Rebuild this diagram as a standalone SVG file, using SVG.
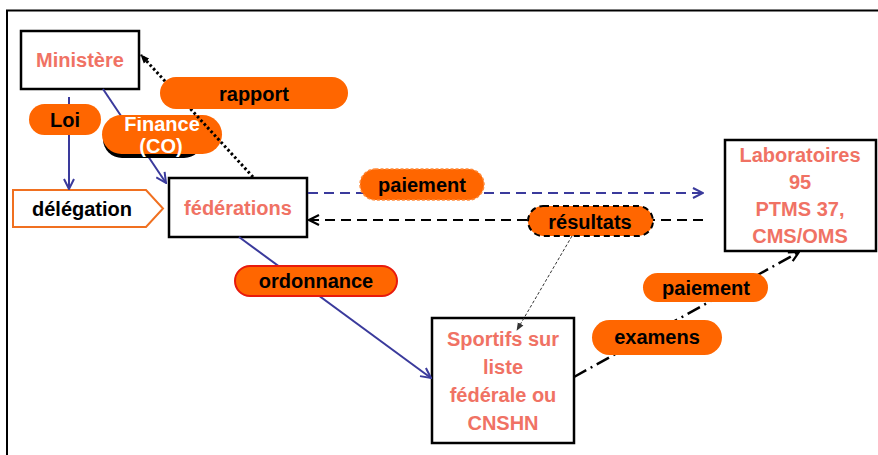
<svg xmlns="http://www.w3.org/2000/svg" width="878" height="455" viewBox="0 0 878 455">
<defs>
<style>
.box{fill:#fff;stroke:#000;stroke-width:2.5}
.nt{font-family:"Liberation Sans",Arial,sans-serif;font-weight:bold;font-size:20px;fill:#F07264;text-anchor:middle}
.lt{font-family:"Liberation Sans",Arial,sans-serif;font-weight:bold;font-size:20px;fill:#000;text-anchor:middle}
.wt{font-family:"Liberation Sans",Arial,sans-serif;font-weight:bold;font-size:20px;fill:#fff;text-anchor:middle}
.pill{fill:#FF6600}
.blue{stroke:#3A3A9C;stroke-width:2;fill:none}
</style>
<marker id="ab" viewBox="0 0 12 12" refX="11" refY="6" markerWidth="12" markerHeight="12" markerUnits="userSpaceOnUse" orient="auto">
<path d="M1,1 L11,6 L1,11" fill="none" stroke="#3A3A9C" stroke-width="2"/>
</marker>
<marker id="ak" viewBox="0 0 12 12" refX="11" refY="6" markerWidth="12" markerHeight="12" markerUnits="userSpaceOnUse" orient="auto">
<path d="M1,1 L11,6 L1,11" fill="none" stroke="#000" stroke-width="2.2"/>
</marker>
<marker id="akf" viewBox="0 0 10 10" refX="9" refY="5" markerWidth="9" markerHeight="9" markerUnits="userSpaceOnUse" orient="auto">
<path d="M0,1 L10,5 L0,9 Z" fill="#000"/>
</marker>
<marker id="as" viewBox="0 0 10 10" refX="9" refY="5" markerWidth="8" markerHeight="8" markerUnits="userSpaceOnUse" orient="auto">
<path d="M0,1 L10,5 L0,9 Z" fill="#333"/>
</marker>
<clipPath id="finclip"><rect x="95" y="117" width="140" height="50"/></clipPath>
</defs>
<rect width="878" height="455" fill="#fff"/>
<path d="M7,455 V10.5 H878" fill="none" stroke="#000" stroke-width="2"/>

<g id="ministere">
<rect class="box" x="21" y="31" width="118" height="58"/>
<text class="nt" x="80" y="67">Ministère</text>
</g>
<g id="delegation">
<polygon points="13,190 146,190 163,208.5 146,227 13,227" fill="#fff" stroke="#F07020" stroke-width="2"/>
<text class="lt" x="82" y="216">délégation</text>
</g>
<g id="federations">
<rect class="box" x="169" y="178" width="138" height="59"/>
<text class="nt" x="238" y="215">fédérations</text>
</g>
<g id="laboratoires">
<rect class="box" x="725" y="140" width="151" height="111"/>
<text class="nt" x="800" y="162">Laboratoires</text>
<text class="nt" x="800" y="189">95</text>
<text class="nt" x="800" y="216">PTMS 37,</text>
<text class="nt" x="800" y="243">CMS/OMS</text>
</g>
<g id="sportifs">
<rect class="box" x="432" y="318" width="142" height="125"/>
<text class="nt" x="503" y="346">Sportifs sur</text>
<text class="nt" x="503" y="374">liste</text>
<text class="nt" x="503" y="402">fédérale ou</text>
<text class="nt" x="503" y="430">CNSHN</text>
</g>

<g id="connectors">
<g id="c-loi">
<line x1="69" y1="97" x2="69" y2="189" class="blue" marker-end="url(#ab)"/>
<rect class="pill" x="29" y="104" width="72" height="31" rx="15.5"/>
<text class="lt" x="65" y="127">Loi</text>
</g>
<g id="c-finance">
<line x1="103" y1="89" x2="166" y2="183" class="blue" marker-end="url(#ab)"/>
<rect x="103" y="120" width="100" height="38" rx="19" fill="#000"/>
<rect class="pill" x="102" y="115" width="120" height="39" rx="19.5"/>
<g clip-path="url(#finclip)">
<text class="wt" x="162" y="131">Finance</text>
</g>
<text class="wt" x="161" y="153">(CO)</text>
</g>
<g id="c-rapport">
<line x1="253" y1="177" x2="141" y2="55" stroke="#000" stroke-width="3" stroke-dasharray="2.5 2.5" marker-end="url(#akf)"/>
<rect class="pill" x="160" y="77" width="188" height="32" rx="16"/>
<text class="lt" x="254" y="101">rapport</text>
</g>
<g id="c-paiement1">
<line x1="308" y1="193" x2="703" y2="193" stroke="#3A3A9C" stroke-width="2" stroke-dasharray="10 6" marker-end="url(#ab)"/>
<rect class="pill" x="360" y="169" width="124" height="31" rx="15.5" stroke="#FF8A3A" stroke-width="1.5" stroke-dasharray="3 2"/>
<text class="lt" x="422" y="192">paiement</text>
</g>
<g id="c-resultats">
<line x1="703" y1="220" x2="309" y2="220" stroke="#000" stroke-width="2" stroke-dasharray="10 6" marker-end="url(#ak)"/>
<line x1="572" y1="236" x2="517" y2="330" stroke="#333" stroke-width="1" stroke-dasharray="3 2" marker-end="url(#as)"/>
<rect class="pill" x="528" y="206" width="125" height="30" rx="15" stroke="#000" stroke-width="2" stroke-dasharray="6 4"/>
<text class="lt" x="590" y="229">résultats</text>
</g>
<g id="c-ordonnance">
<line x1="239" y1="237" x2="431" y2="378" class="blue" marker-end="url(#ab)"/>
<rect class="pill" x="235" y="266" width="162" height="30" rx="15" stroke="#E81A0C" stroke-width="2"/>
<text class="lt" x="316" y="288">ordonnance</text>
</g>
<g id="c-examens">
<line x1="574" y1="377" x2="799" y2="252" stroke="#000" stroke-width="2.5" stroke-dasharray="14 5 2 5" marker-end="url(#ak)"/>
<rect class="pill" x="643" y="273" width="125" height="29" rx="14.5"/>
<text class="lt" x="706" y="295">paiement</text>
<rect class="pill" x="592" y="320" width="130" height="35" rx="17.5"/>
<text class="lt" x="657" y="344">examens</text>
</g>
</g>
</svg>
